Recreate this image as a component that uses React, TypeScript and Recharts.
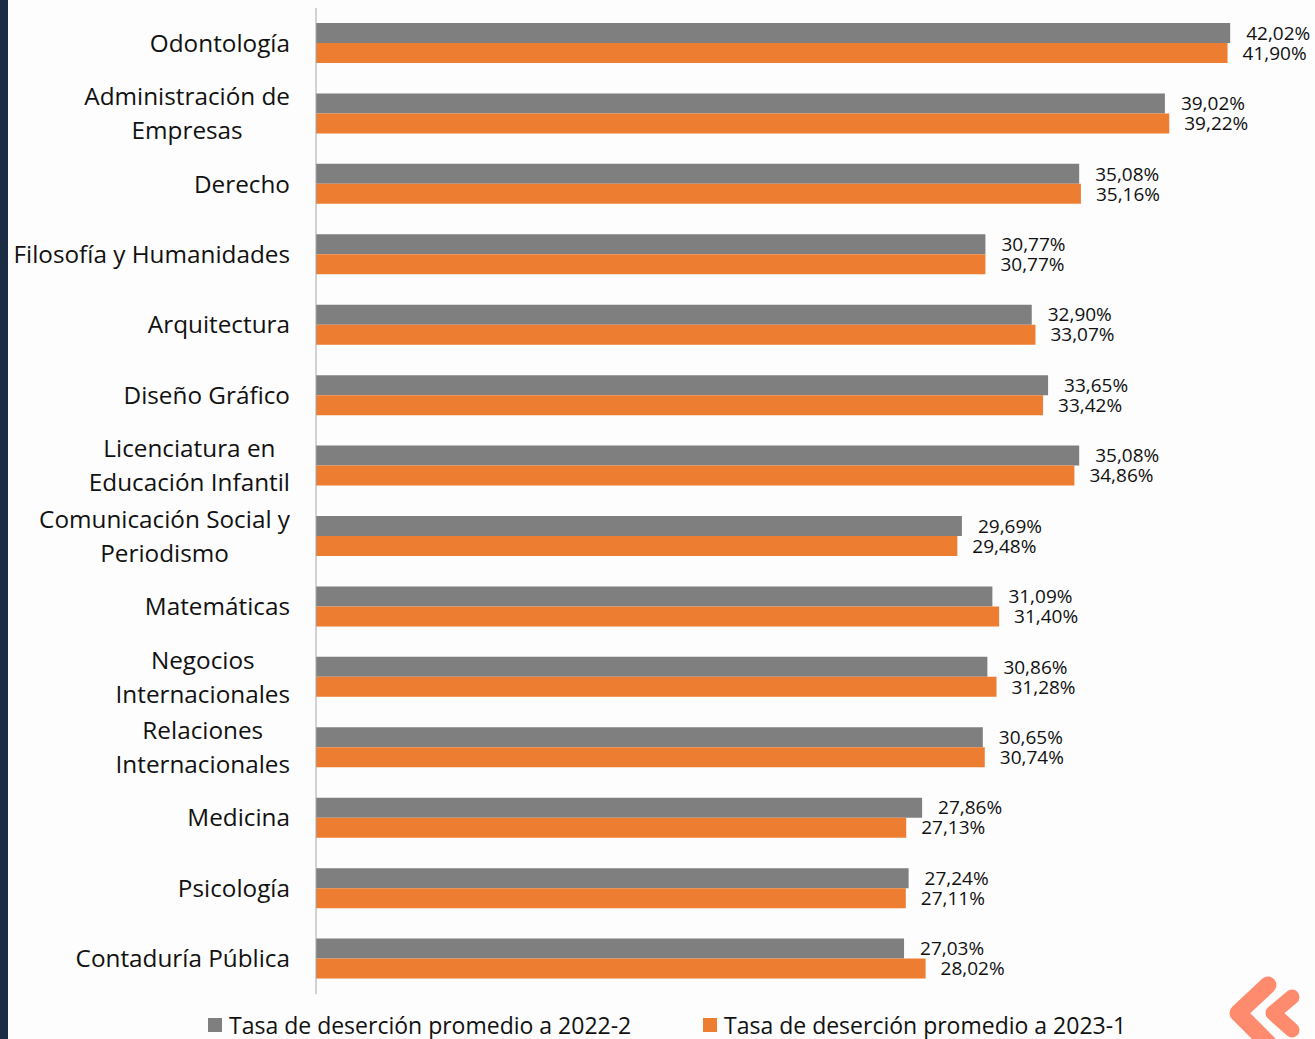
import React from "react";
import { BarChart, Bar, XAxis, YAxis, Legend, LabelList } from "recharts";

const categories = [
  "Odontología",
  "Administración de\nEmpresas",
  "Derecho",
  "Filosofía y Humanidades",
  "Arquitectura",
  "Diseño Gráfico",
  "Licenciatura en\nEducación Infantil",
  "Comunicación Social y\nPeriodismo",
  "Matemáticas",
  "Negocios\nInternacionales",
  "Relaciones\nInternacionales",
  "Medicina",
  "Psicología",
  "Contaduría Pública",
];
const rate2022_2 = [42.02, 39.02, 35.08, 30.77, 32.9, 33.65, 35.08, 29.69, 31.09, 30.86, 30.65, 27.86, 27.24, 27.03];
const rate2023_1 = [41.9, 39.22, 35.16, 30.77, 33.07, 33.42, 34.86, 29.48, 31.4, 31.28, 30.74, 27.13, 27.11, 28.02];
const seriesNames = ["Tasa de deserción promedio a 2022-2", "Tasa de deserción promedio a 2023-1"];

const data = categories.map((name, i) => ({ name, a: rate2022_2[i], b: rate2023_1[i] }));

const FONT = '"Open Sans", sans-serif';
const GRAY = "#7f7f7f";
const ORANGE = "#ed7d31";
const TICK_SIZE = 24.3;

let ctx: CanvasRenderingContext2D | null = null;
function measure(text: string, size: number) {
  if (!ctx) ctx = document.createElement("canvas").getContext("2d");
  if (!ctx) return text.length * size * 0.5;
  ctx.font = `${size}px "Open Sans"`;
  return ctx.measureText(text).width;
}

const CatTick = (props: any) => {
  const { x, y, payload } = props;
  const lines: string[] = String(payload.value).split("\n");
  const maxW = Math.max(...lines.map((l) => measure(l, TICK_SIZE)));
  const cx = x - maxW / 2;
  const lh = 34;
  const startY = y - 1 - ((lines.length - 1) * lh) / 2;
  return (
    <g>
      {lines.map((l, i) => (
        <text
          key={i}
          x={cx}
          y={startY + i * lh}
          textAnchor="middle"
          dominantBaseline="central"
          fontFamily={FONT}
          fontSize={TICK_SIZE}
          fill="#111"
        >
          {l}
        </text>
      ))}
    </g>
  );
};

const fmt = (v: any) => Number(v).toFixed(2).replace(".", ",") + "%";

const LegendContent = () => (
  <div style={{ position: "relative", width: 1315, height: 40, fontFamily: FONT, fontSize: 23, color: "#111" }}>
    {[
      { left: 208, color: GRAY, label: seriesNames[0] },
      { left: 703, color: ORANGE, label: seriesNames[1] },
    ].map((it, i) => (
      <div key={i} style={{ position: "absolute", left: it.left, top: 17, display: "flex", alignItems: "center", lineHeight: "28px", whiteSpace: "nowrap" }}>
        <span style={{ display: "inline-block", width: 14, height: 14, background: it.color, marginRight: 7 }} />
        <span>{it.label}</span>
      </div>
    ))}
  </div>
);

export default function App() {
  return (
    <div style={{ position: "absolute", left: 0, top: 0, width: 1315, height: 1039, background: "#fdfdfd", overflow: "hidden" }}>
      <div style={{ position: "absolute", left: 0, top: 0, width: 8, height: 1039, background: "#1b2d44" }} />
      <BarChart
        width={1315}
        height={1039}
        data={data}
        layout="vertical"
        margin={{ top: 8, right: 20, bottom: 5, left: 0 }}
        barGap={0}
      >
        <XAxis type="number" hide domain={[0, 45]} />
        <YAxis
          type="category"
          dataKey="name"
          width={316}
          tickSize={0}
          tickMargin={26}
          axisLine={{ stroke: "#a6a6a6", strokeWidth: 1 }}
          tickLine={false}
          tick={<CatTick />}
          interval={0}
        />
        <Legend verticalAlign="bottom" height={40} content={<LegendContent />} />
        <Bar dataKey="a" fill={GRAY} barSize={20} isAnimationActive={false}>
          <LabelList dataKey="a" position="right" offset={16} formatter={fmt} style={{ fontFamily: FONT, fontSize: 19, fill: "#111" }} />
        </Bar>
        <Bar dataKey="b" fill={ORANGE} barSize={20} isAnimationActive={false}>
          <LabelList dataKey="b" position="right" offset={15} formatter={fmt} style={{ fontFamily: FONT, fontSize: 19, fill: "#111" }} />
        </Bar>
      </BarChart>
      <svg width={1315} height={1039} style={{ position: "absolute", left: 0, top: 0, pointerEvents: "none" }}>
        <polyline points="1268,985 1238,1013 1268,1043" fill="none" stroke="#ff8b6f" strokeWidth={17} strokeLinecap="round" strokeLinejoin="round" />
        <polyline points="1292,997 1273,1013 1292,1030" fill="none" stroke="#ff8b6f" strokeWidth={15} strokeLinecap="round" strokeLinejoin="round" />
      </svg>
    </div>
  );
}
